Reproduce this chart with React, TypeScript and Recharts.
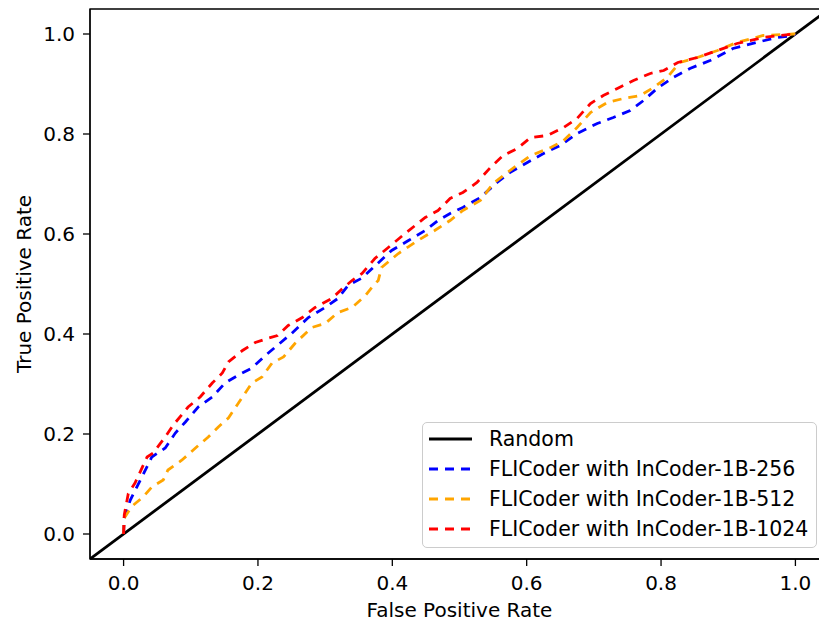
import { LineChart, Line, XAxis, YAxis, ReferenceArea, Legend } from "recharts"

const FONT = "'DejaVu Sans', sans-serif"

const xTicks = [0, 0.2, 0.4, 0.6, 0.8, 1.0]
const yTicks = [0, 0.2, 0.4, 0.6, 0.8, 1.0]

// diagonal reference line, drawn across the whole axes
const randomFpr = [-0.05, 1.05]
const randomTpr = [-0.05, 1.05]

const fpr256 = [
  0, 0.001, 0.01, 0.025, 0.042, 0.062, 0.077, 0.092, 0.111, 0.132, 0.151, 0.171, 0.191, 0.211,
  0.226, 0.25, 0.275, 0.3, 0.319, 0.334, 0.355, 0.37, 0.399, 0.424, 0.449, 0.468, 0.486, 0.505,
  0.531, 0.556, 0.575, 0.601, 0.625, 0.65, 0.675, 0.705, 0.729, 0.754, 0.774, 0.794, 0.818,
  0.843, 0.873, 0.907, 0.942, 0.972, 0.997, 1,
]
const tpr256 = [
  0, 0.032, 0.068, 0.108, 0.154, 0.172, 0.202, 0.224, 0.254, 0.274, 0.302, 0.318, 0.332, 0.357,
  0.374, 0.401, 0.433, 0.453, 0.471, 0.497, 0.512, 0.531, 0.567, 0.587, 0.607, 0.627, 0.641, 0.653,
  0.673, 0.703, 0.723, 0.743, 0.761, 0.777, 0.801, 0.821, 0.833, 0.847, 0.867, 0.891, 0.913,
  0.931, 0.947, 0.971, 0.983, 0.993, 0.997, 1,
]

const fpr512 = [
  0, 0.001, 0.012, 0.029, 0.042, 0.059, 0.066, 0.087, 0.107, 0.126, 0.141, 0.156, 0.171, 0.191,
  0.206, 0.221, 0.238, 0.255, 0.28, 0.3, 0.319, 0.34, 0.36, 0.37, 0.379, 0.384, 0.409, 0.438,
  0.463, 0.486, 0.505, 0.531, 0.55, 0.575, 0.606, 0.636, 0.655, 0.675, 0.695, 0.72, 0.744,
  0.769, 0.789, 0.809, 0.828, 0.854, 0.884, 0.913, 0.952, 0.997, 1,
]
const tpr512 = [
  0, 0.032, 0.055, 0.074, 0.094, 0.108, 0.128, 0.148, 0.172, 0.194, 0.214, 0.232, 0.262, 0.302,
  0.314, 0.342, 0.354, 0.381, 0.413, 0.421, 0.443, 0.453, 0.477, 0.494, 0.507, 0.533, 0.561, 0.587,
  0.607, 0.627, 0.647, 0.667, 0.701, 0.727, 0.757, 0.773, 0.787, 0.813, 0.843, 0.863, 0.871,
  0.877, 0.893, 0.913, 0.943, 0.953, 0.967, 0.983, 0.997, 1.0, 1,
]

const fpr1024 = [
  0, 0.001, 0.007, 0.017, 0.035, 0.044, 0.062, 0.074, 0.096, 0.114, 0.132, 0.147, 0.156, 0.177,
  0.196, 0.214, 0.229, 0.245, 0.266, 0.285, 0.31, 0.325, 0.34, 0.355, 0.374, 0.394, 0.419, 0.449,
  0.468, 0.486, 0.505, 0.526, 0.546, 0.565, 0.586, 0.606, 0.631, 0.655, 0.675, 0.695, 0.714,
  0.735, 0.759, 0.784, 0.804, 0.825, 0.854, 0.884, 0.913, 0.952, 0.997, 1,
]
const tpr1024 = [
  0, 0.038, 0.081, 0.102, 0.154, 0.162, 0.194, 0.218, 0.254, 0.274, 0.302, 0.322, 0.344, 0.367,
  0.383, 0.391, 0.397, 0.417, 0.433, 0.453, 0.471, 0.49, 0.507, 0.521, 0.551, 0.573, 0.601, 0.633,
  0.647, 0.671, 0.683, 0.703, 0.733, 0.757, 0.771, 0.793, 0.797, 0.813, 0.831, 0.861, 0.877,
  0.891, 0.907, 0.921, 0.927, 0.943, 0.953, 0.967, 0.981, 0.993, 1.0, 1,
]

const toPoints = (fpr: number[], tpr: number[]) => fpr.map((x, i) => ({ x, y: tpr[i] }))

const series = [
  { name: "Random", data: toPoints(randomFpr, randomTpr), color: "#000000", dash: undefined },
  { name: "FLICoder with InCoder-1B-256", data: toPoints(fpr256, tpr256), color: "#0000ff", dash: "9 7" },
  { name: "FLICoder with InCoder-1B-512", data: toPoints(fpr512, tpr512), color: "#ffa500", dash: "9 7" },
  { name: "FLICoder with InCoder-1B-1024", data: toPoints(fpr1024, tpr1024), color: "#ff0000", dash: "9 7" },
]

const tickStyle = { fill: "#000", fontSize: 20, fontFamily: FONT }

function LegendBox() {
  return (
    <div
      style={{
        position: "relative",
        boxSizing: "border-box",
        width: 395,
        height: 126,
        border: "1px solid #cccccc",
        borderRadius: 5,
        background: "rgba(255,255,255,0.8)",
        fontFamily: FONT,
        fontSize: 20.5,
        color: "#000",
      }}
    >
      {series.map((s, i) => (
        <div
          key={s.name}
          style={{ position: "absolute", left: 0, top: 1 + i * 30, height: 30, display: "flex", alignItems: "center" }}
        >
          <svg width={60} height={30} style={{ display: "block" }}>
            <line x1={6} x2={49} y1={15} y2={15} stroke={s.color} strokeWidth={2.8} strokeDasharray={s.dash} />
          </svg>
          <span style={{ marginLeft: 6, whiteSpace: "nowrap" }}>{s.name}</span>
        </div>
      ))}
    </div>
  )
}

export default function App() {
  return (
    <div style={{ position: "absolute", left: 0, top: 0, width: 819, height: 623, overflow: "hidden", background: "#fff" }}>
      <LineChart width={830} height={623} margin={{ top: 9, right: 1, left: 0, bottom: 0 }}>
        <XAxis
          dataKey="x"
          type="number"
          domain={[-0.05, 1.05]}
          allowDataOverflow
          ticks={xTicks}
          tickFormatter={(v: number) => v.toFixed(1)}
          height={64}
          tickSize={7}
          tickMargin={10}
          tick={tickStyle}
          tickLine={{ stroke: "#000", strokeWidth: 1.3 }}
          axisLine={{ stroke: "#000", strokeWidth: 1.3 }}
          label={{ value: "False Positive Rate", position: "insideBottom", offset: 6, fill: "#000", fontSize: 20, fontFamily: FONT }}
        />
        <YAxis
          dataKey="y"
          type="number"
          domain={[-0.05, 1.05]}
          allowDataOverflow
          ticks={yTicks}
          tickFormatter={(v: number) => v.toFixed(1)}
          width={90}
          tickSize={7}
          tickMargin={8}
          tick={tickStyle}
          tickLine={{ stroke: "#000", strokeWidth: 1.3 }}
          axisLine={{ stroke: "#000", strokeWidth: 1.3 }}
          label={{
            value: "True Positive Rate",
            angle: -90,
            position: "insideLeft",
            offset: 24,
            fill: "#000",
            fontSize: 20,
            fontFamily: FONT,
            style: { textAnchor: "middle" },
          }}
        />
        <ReferenceArea x1={-0.05} x2={1.05} y1={-0.05} y2={1.05} fill="none" stroke="#000" strokeWidth={1.3} />
        {series.map((s) => (
          <Line
            key={s.name}
            data={s.data}
            dataKey="y"
            name={s.name}
            type="linear"
            stroke={s.color}
            strokeWidth={2.8}
            strokeDasharray={s.dash}
            dot={false}
            activeDot={false}
            isAnimationActive={false}
          />
        ))}
        <Legend
          layout="horizontal"
          verticalAlign="middle"
          align="center"
          content={() => <LegendBox />}
          wrapperStyle={{ position: "absolute", left: 422, top: 422, width: 395, height: 126 }}
        />
      </LineChart>
    </div>
  )
}
